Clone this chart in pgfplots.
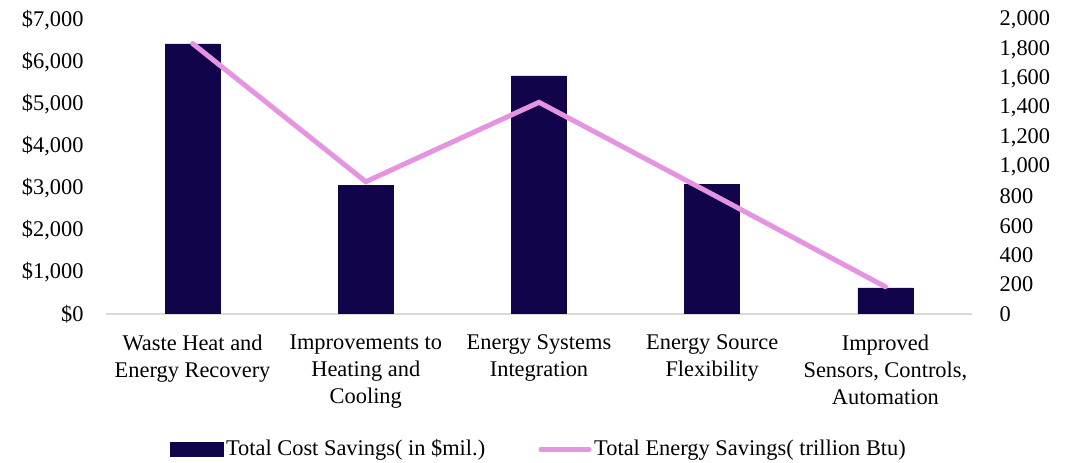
\documentclass[border=0pt]{standalone}
\usepackage{fontspec}
\setmainfont{Liberation Serif}
\usepackage{pgfplots}
\pgfplotsset{compat=1.18}
\definecolor{barc}{RGB}{18,4,74}
\definecolor{linec}{RGB}{228,148,224}
\definecolor{axc}{RGB}{217,217,217}
\newcommand{\chfont}{\fontsize{16.8}{20.3}\selectfont}
\begin{document}
\chfont
\begin{tikzpicture}
\useasboundingbox (-79.5pt,-111.75pt) rectangle (719.25pt,235.5pt);
\begin{axis}[
  at={(0pt,0pt)}, anchor=south west,
  scale only axis, width=649.5pt, height=220.5pt,
  xmin=-0.5, xmax=4.5, ymin=0, ymax=7000,
  axis x line*=bottom, axis y line*=left,
  y axis line style={draw=none},
  x axis line style={axc, line width=1pt},
  major tick length=0pt,
  xtick={0,1,2,3,4},
  xticklabels={{Waste Heat and\\Energy Recovery},{Improvements to\\Heating and\\Cooling},{Energy Systems\\Integration},{Energy Source\\Flexibility},{Improved\\Sensors, Controls,\\Automation}},
  xticklabel style={align=center, yshift=-10pt, font=\chfont},
  ytick={0,1000,...,7000},
  yticklabels={\$0,\$1{,}000,\$2{,}000,\$3{,}000,\$4{,}000,\$5{,}000,\$6{,}000,\$7{,}000},
  yticklabel style={xshift=-11pt, font=\chfont},
]
\addplot[ybar, bar width=41.25pt, fill=barc, draw=barc] coordinates {(0,6430) (1,3070) (2,5670) (3,3095) (4,620)};
\end{axis}
\begin{axis}[
  at={(0pt,0pt)}, anchor=south west,
  scale only axis, width=649.5pt, height=220.5pt,
  xmin=-0.5, xmax=4.5, ymin=0, ymax=2000,
  axis x line=none, axis y line*=right,
  y axis line style={draw=none},
  major tick length=0pt,
  ytick={0,200,...,2000},
  /pgf/number format/.cd, 1000 sep={,}, assume math mode=true,
  /pgfplots/.cd,
  yticklabel style={xshift=15pt, font=\chfont},
  legend columns=2,
  legend style={at={(0.5,-0.46)}, anchor=center, draw=none, fill=none,
    font=\chfont,
    /tikz/every even column/.append style={column sep=38pt}},
]
\addlegendimage{legend image code/.code={\fill[barc] (0pt,-5.5pt) rectangle (40pt,5.5pt);}}
\addlegendentry{Total Cost Savings( in \$mil.)}
\addplot[linec, line width=3.75pt, line cap=round, mark=none,
  legend image code/.code={\draw[linec, line width=3.75pt, line cap=round] (2pt,0pt) -- (38pt,0pt);}]
  coordinates {(0,1840) (1,900) (2,1440) (3,815) (4,185)};
\addlegendentry{Total Energy Savings( trillion Btu)}
\end{axis}
\end{tikzpicture}
\end{document}
